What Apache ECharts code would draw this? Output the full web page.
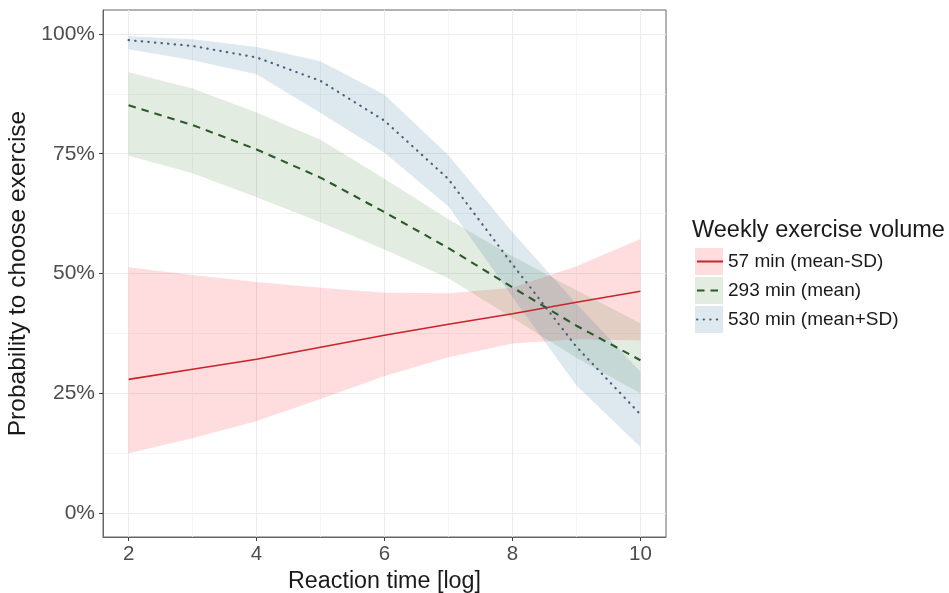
<!DOCTYPE html>
<html>
<head>
<meta charset="utf-8">
<script src="https://cdn.jsdelivr.net/npm/echarts@6/dist/echarts.min.js"></script>
<style>
html,body{margin:0;padding:0;background:#ffffff;}
#chart{width:949px;height:593px;}
</style>
</head>
<body>
<div id="chart"></div>
<script>
// ---- data ----
const reactionTime = [2, 3, 4, 5, 6, 7, 8, 9, 10];
const xTicks = [2, 4, 6, 8, 10];
const xMinorTicks = [3, 5, 7, 9];
const yTicks = [0, 25, 50, 75, 100];
const yMinorTicks = [12.5, 37.5, 62.5, 87.5];
const groupNames = ['57 min (mean-SD)', '293 min (mean)', '530 min (mean+SD)'];

// 57 min (mean-SD)
const lowFit   = [27.9, 30.0, 32.1, 34.6, 37.1, 39.4, 41.6, 44.0, 46.3];
const lowLower = [12.5, 15.6, 19.2, 23.8, 28.6, 32.5, 35.4, 36.3, 36.0];
const lowUpper = [51.3, 49.7, 48.2, 47.0, 46.0, 45.9, 47.0, 51.5, 57.2];
// 293 min (mean)
const meanFit   = [85.1, 81.0, 75.9, 70.0, 62.8, 55.3, 47.1, 39.1, 31.9];
const meanLower = [74.6, 70.9, 65.9, 60.7, 55.0, 49.0, 40.7, 32.4, 25.0];
const meanUpper = [92.0, 88.6, 83.6, 77.9, 69.8, 61.3, 53.6, 46.5, 39.6];
// 530 min (mean+SD)
const highFit   = [98.7, 97.5, 95.1, 90.2, 81.9, 69.7, 51.9, 34.7, 20.6];
const highLower = [96.8, 94.5, 91.6, 83.5, 75.2, 64.0, 45.1, 26.6, 13.8];
const highUpper = [99.5, 98.9, 97.3, 94.3, 87.3, 74.7, 58.6, 43.7, 29.5];

// ---- styles ----
const FONT = "'Liberation Sans', Arial, Helvetica, sans-serif";
const fills = ['rgba(255,60,70,0.18)', 'rgba(60,120,40,0.14)', 'rgba(60,120,160,0.17)'];
const lineColors = ['#C8242C', '#2A5A2A', '#4C5E74'];
const lineTypes = ['solid', [7.5, 6], [0.4, 6.2]];
const lineWidths = [1.6, 2.1, 2.2];
const lineCaps = ['butt', 'butt', 'round'];

const fits = [lowFit, meanFit, highFit];
const lowers = [lowLower, meanLower, highLower];
const uppers = [lowUpper, meanUpper, highUpper];

function pairs(arr) { return reactionTime.map((x, i) => [x, arr[i]]); }

const series = [];
const bandNames = groupNames.map(n => 'band ' + n);
for (let g = 0; g < 3; g++) {
  const lo = lowers[g], up = uppers[g];
  series.push({
    type: 'custom', name: bandNames[g], silent: true, z: 1,
    itemStyle: { color: fills[g] },
    data: reactionTime.map((x, i) => [x, lo[i], up[i]]),
    encode: { x: 0, y: [1, 2] },
    renderItem: function (params, api) {
      if (params.dataIndexInside !== 0) return null;
      const pts = [];
      for (let i = 0; i < reactionTime.length; i++) pts.push(api.coord([reactionTime[i], up[i]]));
      for (let i = reactionTime.length - 1; i >= 0; i--) pts.push(api.coord([reactionTime[i], lo[i]]));
      return { type: 'polygon', shape: { points: pts }, style: { fill: fills[g], stroke: null } };
    }
  });
}
for (let g = 0; g < 3; g++) {
  series.push({
    type: 'line', name: groupNames[g], data: pairs(fits[g]),
    symbol: 'none', silent: true, z: 3,
    itemStyle: { color: lineColors[g] },
    lineStyle: { color: lineColors[g], width: lineWidths[g], type: lineTypes[g], cap: lineCaps[g] },
    emphasis: { disabled: true }
  });
}

const chart = echarts.init(document.getElementById('chart'), null, { renderer: 'canvas' });
chart.setOption({
  animation: false,
  backgroundColor: '#ffffff',
  textStyle: { fontFamily: FONT },
  title: {
    text: 'Weekly exercise volume', left: 692, top: 219, padding: 0,
    textStyle: { fontSize: 23.5, fontWeight: 'normal', color: '#1a1a1a', fontFamily: FONT }
  },
  legend: [
    {
      data: bandNames.map((n, i) => ({ name: n, icon: 'rect', itemStyle: { color: fills[i] } })),
      orient: 'vertical', left: 695, top: 248, padding: 0,
      itemWidth: 28, itemHeight: 27, itemGap: 2,
      formatter: () => '', selectedMode: false,
      textStyle: { fontSize: 1 }
    },
    {
      data: groupNames.map(n => ({ name: n, itemStyle: { opacity: 0 } })),
      orient: 'vertical', left: 696, top: 248, padding: 0,
      itemWidth: 26, itemHeight: 27, itemGap: 2, selectedMode: false,
      itemStyle: { opacity: 0 },
      textStyle: { fontSize: 19, lineHeight: 27, color: '#1a1a1a', fontFamily: FONT }
    }
  ],
  grid: {
    left: 103, right: 283, top: 10, bottom: 56,
    outerBoundsMode: 'none', containLabel: false,
    show: true, borderColor: '#666666', borderWidth: 1, backgroundColor: '#ffffff'
  },
  xAxis: [
    {
      type: 'value', min: 1.6, max: 10.4, position: 'bottom',
      axisLine: { show: true, onZero: false, lineStyle: { color: '#666666', width: 1 } },
      axisTick: { show: true, customValues: xTicks, length: 4, lineStyle: { color: '#444444', width: 1 } },
      axisLabel: { customValues: xTicks, fontSize: 20.5, color: '#4d4d4d', margin: 7, fontFamily: FONT },
      splitLine: { show: true, lineStyle: { color: '#EBEBEB', width: 1.1 } },
      name: 'Reaction time [log]', nameLocation: 'middle', nameGap: 30,
      nameTextStyle: { fontSize: 23.3, color: '#1a1a1a', fontFamily: FONT }
    },
    {
      type: 'value', min: 1.6, max: 10.4, position: 'top',
      axisLine: { show: false, onZero: false }, axisTick: { show: false, customValues: xMinorTicks },
      axisLabel: { show: false, customValues: xMinorTicks },
      splitLine: { show: true, lineStyle: { color: '#F3F3F3', width: 0.8 } }
    }
  ],
  yAxis: [
    {
      type: 'value', min: -5, max: 105, position: 'left',
      axisLine: { show: true, onZero: false, lineStyle: { color: '#666666', width: 1 } },
      axisTick: { show: true, customValues: yTicks, length: 4, lineStyle: { color: '#444444', width: 1 } },
      axisLabel: { customValues: yTicks, formatter: '{value}%', fontSize: 21, color: '#4d4d4d', margin: 8, fontFamily: FONT },
      splitLine: { show: true, lineStyle: { color: '#EBEBEB', width: 1.1 } },
      name: 'Probability to choose exercise', nameLocation: 'middle', nameGap: 65,
      nameTextStyle: { fontSize: 24.5, color: '#1a1a1a', fontFamily: FONT }
    },
    {
      type: 'value', min: -5, max: 105, position: 'right',
      axisLine: { show: false, onZero: false }, axisTick: { show: false, customValues: yMinorTicks },
      axisLabel: { show: false, customValues: yMinorTicks },
      splitLine: { show: true, lineStyle: { color: '#F3F3F3', width: 0.8 } }
    }
  ],
  series: series
});
</script>
</body>
</html>
